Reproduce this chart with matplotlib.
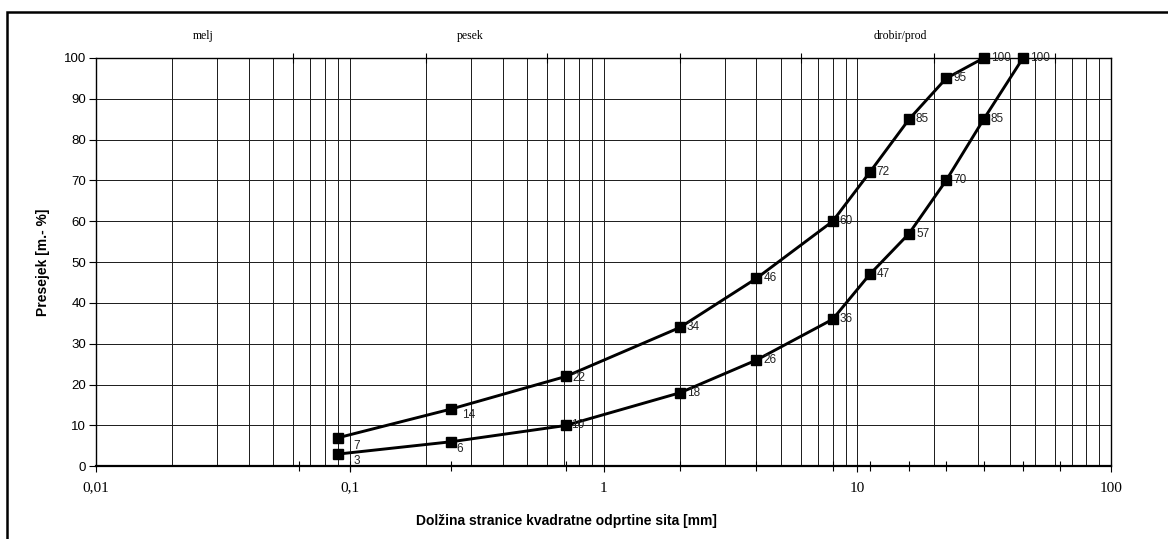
import matplotlib
matplotlib.use("Agg")
import matplotlib.pyplot as plt
from matplotlib.patches import Rectangle
from matplotlib.ticker import FixedLocator, NullFormatter, NullLocator, LogLocator

# ---------------- data ----------------
sieve_sizes = [0.09, 0.25, 0.71, 2, 4, 8, 11.2, 16, 22.4, 31.5, 45]
upper_curve = [7, 14, 22, 34, 46, 60, 72, 85, 95, 100]
lower_curve = [3, 6, 10, 18, 26, 36, 47, 57, 70, 85, 100]
x_major_ticks = [0.01, 0.1, 1, 10, 100]
x_major_labels = ["0,01", "0,1", "1", "10", "100"]
sieve_ticks = [0.063, 0.1, 0.25, 0.71, 2, 4, 8, 11.2, 16, 22.4, 31.5, 45, 63]
class_bounds = [0.06, 0.2, 0.6, 2, 6, 20, 60]
y_ticks = list(range(0, 101, 10))
zone_names = ["melj", "pesek", "drobir/prod"]
x_title = "Dolžina stranice kvadratne odprtine sita [mm]"
y_title = "Presejek [m.- %]"

# ---------------- style ----------------
W, H = 1168, 539
fig = plt.figure(figsize=(W / 100, H / 100), dpi=100)
fig.patch.set_facecolor("white")

left, right, top, bottom = 96, 1111, 58, 466.3
ax = fig.add_axes([left / W, 1 - bottom / H, (right - left) / W, (bottom - top) / H])
ax.set_xscale("log")
ax.set_xlim(0.01, 100)
ax.set_ylim(0, 100)

sans = ["Liberation Sans", "DejaVu Sans"]
serif = ["Liberation Serif", "DejaVu Serif"]

# grid
ax.xaxis.set_major_locator(FixedLocator(x_major_ticks))
ax.xaxis.set_minor_locator(LogLocator(base=10, subs=range(2, 10)))
ax.xaxis.set_minor_formatter(NullFormatter())
ax.set_xticklabels(x_major_labels, fontfamily=serif, fontsize=11)
ax.set_yticks(y_ticks)
ax.set_yticklabels([str(v) for v in y_ticks], fontfamily=sans, fontsize=9.5)
ax.grid(True, which="both", axis="x", color="#1a1a1a", lw=0.7)
ax.grid(True, which="major", axis="y", color="#1a1a1a", lw=0.7)
ax.set_axisbelow(True)
ax.tick_params(axis="x", which="major", direction="out", length=4, width=0.8, pad=7)
ax.tick_params(axis="x", which="minor", length=0)
ax.tick_params(axis="y", direction="out", length=5, width=0.8, pad=2)
for side, sp in ax.spines.items():
    sp.set_color("black")
    sp.set_linewidth(1.6 if side == "bottom" else 1.0)

# sieve ticks at bottom
ax_s = ax.twiny()
ax_s.set_xscale("log")
ax_s.set_xlim(ax.get_xlim())
ax_s.xaxis.set_ticks_position("bottom")
ax_s.xaxis.set_major_locator(FixedLocator(sieve_ticks))
ax_s.xaxis.set_minor_locator(NullLocator())
ax_s.xaxis.set_major_formatter(NullFormatter())
ax_s.tick_params(axis="x", direction="inout", length=7, width=0.8)
for sp in ax_s.spines.values():
    sp.set_visible(False)

# soil class boundary ticks at top
ax_t = ax.twiny()
ax_t.set_xscale("log")
ax_t.set_xlim(ax.get_xlim())
ax_t.xaxis.set_ticks_position("top")
ax_t.xaxis.set_major_locator(FixedLocator(class_bounds))
ax_t.xaxis.set_minor_locator(NullLocator())
ax_t.xaxis.set_major_formatter(NullFormatter())
ax_t.tick_params(axis="x", direction="inout", length=7, width=0.8)
for sp in ax_t.spines.values():
    sp.set_visible(False)

# curves
line_kw = dict(color="black", lw=2.1, marker="s", markersize=6.5, markerfacecolor="black",
               markeredgecolor="black", zorder=5, clip_on=False)
ax.plot(sieve_sizes[:len(upper_curve)], upper_curve, **line_kw)
ax.plot(sieve_sizes[:len(lower_curve)], lower_curve, **line_kw)

# data labels
default_off = (5, 0)
upper_off = {0: (11, -6), 1: (8, -4), 2: (5, -1)}
lower_off = {0: (11, -5), 1: (4, -5), 2: (4, 0)}
for i, (x, y) in enumerate(zip(sieve_sizes, upper_curve)):
    ax.annotate(str(y), (x, y), xytext=upper_off.get(i, default_off), textcoords="offset points",
                ha="left", va="center", fontsize=8.5, fontfamily=sans, color="#222222",
                zorder=6, annotation_clip=False)
for i, (x, y) in enumerate(zip(sieve_sizes, lower_curve)):
    ax.annotate(str(y), (x, y), xytext=lower_off.get(i, default_off), textcoords="offset points",
                ha="left", va="center", fontsize=8.5, fontfamily=sans, color="#222222",
                zorder=6, annotation_clip=False)

# titles
fig.text(566 / W, 1 - 521 / H, x_title, ha="center", va="center", fontsize=10,
         fontweight="bold", fontfamily=sans)
fig.text(43 / W, 1 - 262 / H, y_title, ha="center", va="center", rotation=90,
         fontsize=10, fontweight="bold", fontfamily=sans)

zone_px = [203, 470, 900]
for name, px in zip(zone_names, zone_px):
    fig.text(px / W, 1 - 36 / H, name, ha="center", va="center", fontsize=8.5, fontfamily=serif)

# outer frame (right and bottom edges lie outside the image)
fig.add_artist(Rectangle((6.5 / W, -0.1), 1.2, 1.1 - 11.5 / H, transform=fig.transFigure,
                         fill=False, lw=1.8, edgecolor="black", clip_on=False))

fig.savefig("out.png", dpi=100)
